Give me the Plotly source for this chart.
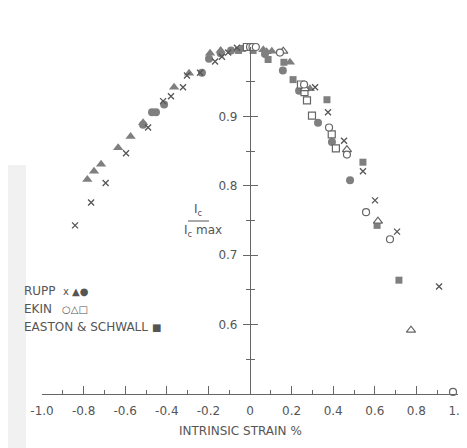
import plotly.graph_objects as go

# ---------------- data (strain %, Ic/Icmax) ----------------
rupp_x_strain = [-0.841, -0.764, -0.694, -0.596, -0.490, -0.418, -0.380, -0.322, -0.303, -0.240,
                 -0.168, -0.135, -0.105, -0.063, 0.313, 0.375, 0.452, 0.543, 0.601, 0.707, 0.909]
rupp_x_ic = [0.743, 0.776, 0.804, 0.847, 0.884, 0.922, 0.929, 0.942, 0.959, 0.963,
             0.979, 0.986, 0.992, 0.999, 0.942, 0.906, 0.865, 0.821, 0.779, 0.734, 0.655]

rupp_tri_strain = [-0.782, -0.750, -0.716, -0.634, -0.574, -0.514, -0.365, -0.293, -0.192, -0.141,
                   0.064, 0.080, 0.105, 0.192, 0.288]
rupp_tri_ic = [0.809, 0.821, 0.831, 0.855, 0.871, 0.891, 0.942, 0.962, 0.991, 0.995,
               0.996, 0.993, 0.994, 0.978, 0.940]

rupp_dot_strain = [-0.514, -0.471, -0.452, -0.413, -0.231, -0.197, -0.141, -0.091,
                   0.072, 0.158, 0.236, 0.327, 0.394, 0.481]
rupp_dot_ic = [0.888, 0.906, 0.906, 0.917, 0.963, 0.983, 0.991, 0.995,
               0.990, 0.966, 0.937, 0.891, 0.863, 0.808]

ekin_circ_strain = [0.000, 0.012, 0.028, 0.144, 0.260, 0.380, 0.466, 0.558, 0.673, 0.976]
ekin_circ_ic = [1.000, 1.000, 1.000, 0.992, 0.946, 0.884, 0.845, 0.762, 0.723, 0.503]

ekin_tri_strain = [0.160, 0.264, 0.466, 0.615, 0.774]
ekin_tri_ic = [0.994, 0.940, 0.852, 0.749, 0.592]

ekin_sq_strain = [-0.015, 0.245, 0.262, 0.274, 0.298, 0.393, 0.413]
ekin_sq_ic = [1.000, 0.946, 0.935, 0.923, 0.901, 0.874, 0.854]

es_sq_strain = [-0.055, -0.035, 0.015, 0.087, 0.163, 0.207, 0.370, 0.543, 0.611, 0.716]
es_sq_ic = [0.995, 0.998, 0.995, 0.982, 0.978, 0.953, 0.924, 0.834, 0.743, 0.664]

x_tick_vals = [-1.0, -0.8, -0.6, -0.4, -0.2, 0.0, 0.2, 0.4, 0.6, 0.8, 1.0]
x_tick_text = ["-1.0", "-0.8", "-0.6", "-0.4", "-0.2", "0", "0.2", "0.4", "0.6", "0.8", "1.0"]
y_tick_vals = [0.6, 0.7, 0.8, 0.9]
y_tick_text = ["0.6", "0.7", "0.8", "0.9"]

# ---------------- styling ----------------
OFF = 8                      # page body margin
W, H = 467 - OFF, 448 - OFF
# plot area in page pixels: x 42..458, y 47..394
ML, MR, MT, MB = 42 - OFF, 9, 47 - OFF, 54
FILL = "#7f7f7f"
LINE = "#666666"
TEXT = "#555555"
FONT = "DejaVu Sans"


def px2paper(px, py):
    fx, fy = px - OFF, py - OFF
    return (fx - ML) / (W - ML - MR), (H - MB - fy) / (H - MT - MB)


fig = go.Figure()

def add(xs, ys, symbol, size, filled, lw=1.2):
    fig.add_trace(go.Scatter(
        x=xs, y=ys, mode="markers", showlegend=False, cliponaxis=False,
        marker=dict(symbol=symbol, size=size,
                    color=FILL if filled else "white",
                    line=dict(color=FILL if filled else LINE, width=0 if filled else lw)),
    ))

add(rupp_tri_strain, rupp_tri_ic, "triangle-up", 9, True)
add(rupp_dot_strain, rupp_dot_ic, "circle", 8, True)
add(es_sq_strain, es_sq_ic, "square", 7, True)
add(ekin_sq_strain, ekin_sq_ic, "square", 7, False)
add(ekin_tri_strain, ekin_tri_ic, "triangle-up", 8, False)
add(ekin_circ_strain, ekin_circ_ic, "circle", 7, False)
fig.add_trace(go.Scatter(
    x=rupp_x_strain, y=rupp_x_ic, mode="markers", showlegend=False, cliponaxis=False,
    marker=dict(symbol="x-thin-open", size=6, color=TEXT, line=dict(color=TEXT, width=1.3)),
))
# invisible trace to carry the second (inward-tick) y axis
fig.add_trace(go.Scatter(x=[None], y=[None], yaxis="y2", showlegend=False, hoverinfo="skip"))

tickfont = dict(family=FONT, size=12, color=TEXT)

fig.update_layout(
    width=W, height=H,
    margin=dict(l=ML, r=MR, t=MT, b=MB, autoexpand=False),
    paper_bgcolor="white", plot_bgcolor="white",
    xaxis=dict(
        range=[-1.0, 1.0], domain=[0, 1], showgrid=False, zeroline=False, automargin=False,
        showline=True, linecolor=LINE, linewidth=1.2,
        tickmode="array", tickvals=x_tick_vals, ticktext=x_tick_text,
        ticks="inside", ticklen=8, tickwidth=1.2, tickcolor=LINE,
        minor=dict(tickmode="array", tickvals=[-0.9, -0.7, -0.5, -0.3, -0.1, 0.1, 0.3, 0.5, 0.7, 0.9],
                   ticks="inside", ticklen=4, tickwidth=1.2, tickcolor=LINE, showgrid=False),
        tickfont=tickfont, ticklabelstandoff=5, ticklabeloverflow="allow",
    ),
    yaxis=dict(
        range=[0.5, 1.0], anchor="free", position=0.5, showgrid=False, zeroline=False,
        automargin=False,
        showline=True, linecolor=LINE, linewidth=1.2,
        tickmode="array", tickvals=y_tick_vals, ticktext=y_tick_text,
        ticks="outside", ticklen=7, tickwidth=1.2, tickcolor=LINE,
        minor=dict(tickmode="array", tickvals=[0.55, 0.65, 0.75, 0.85, 0.95],
                   ticks="outside", ticklen=4, tickwidth=1.2, tickcolor=LINE, showgrid=False),
        tickfont=tickfont, ticklabelstandoff=3,
    ),
    yaxis2=dict(
        range=[0.5, 1.0], anchor="free", position=0.5, overlaying="y", side="left",
        automargin=False,
        showgrid=False, zeroline=False, showline=False, showticklabels=False,
        tickmode="array", tickvals=y_tick_vals,
        ticks="inside", ticklen=7, tickwidth=1.2, tickcolor=LINE,
        minor=dict(tickmode="array", tickvals=[0.55, 0.65, 0.75, 0.85, 0.95],
                   ticks="inside", ticklen=4, tickwidth=1.2, tickcolor=LINE, showgrid=False),
    ),
)

# faint scan smudge on the left edge
fig.add_shape(type="rect", xref="paper", yref="paper",
              x0=px2paper(8, 0)[0], x1=px2paper(26, 0)[0],
              y0=px2paper(0, 448)[1], y1=px2paper(0, 165)[1],
              fillcolor="#f1f1f1", line=dict(width=0), layer="below")

def ann(text, px, py, xanchor="center", size=12):
    xp, yp = px2paper(px, py)
    fig.add_annotation(text=text, x=xp, y=yp, xref="paper", yref="paper",
                       xanchor=xanchor, yanchor="middle", showarrow=False,
                       font=dict(family=FONT, size=size, color=TEXT))

# axis title
ann("INTRINSIC STRAIN %", 240, 431)
# Ic / Ic max fraction label
ann("I<sub>c</sub>", 198, 210)
ann("I<sub>c</sub> max", 203, 231)
x0p, y0p = px2paper(188, 221)
x1p, _ = px2paper(209, 221)
fig.add_shape(type="line", xref="paper", yref="paper", x0=x0p, x1=x1p, y0=y0p, y1=y0p,
              line=dict(color=TEXT, width=1))

# text legend
ann("RUPP", 22, 291, xanchor="left")
ann("x ▲●", 61, 291, xanchor="left", size=10)
ann("EKIN", 22, 309, xanchor="left")
ann("○△□", 60, 309, xanchor="left", size=10)
ann("EASTON &amp; SCHWALL", 22, 327, xanchor="left")
ann("■", 150, 327, xanchor="left", size=10)

fig.write_html("out.html")
